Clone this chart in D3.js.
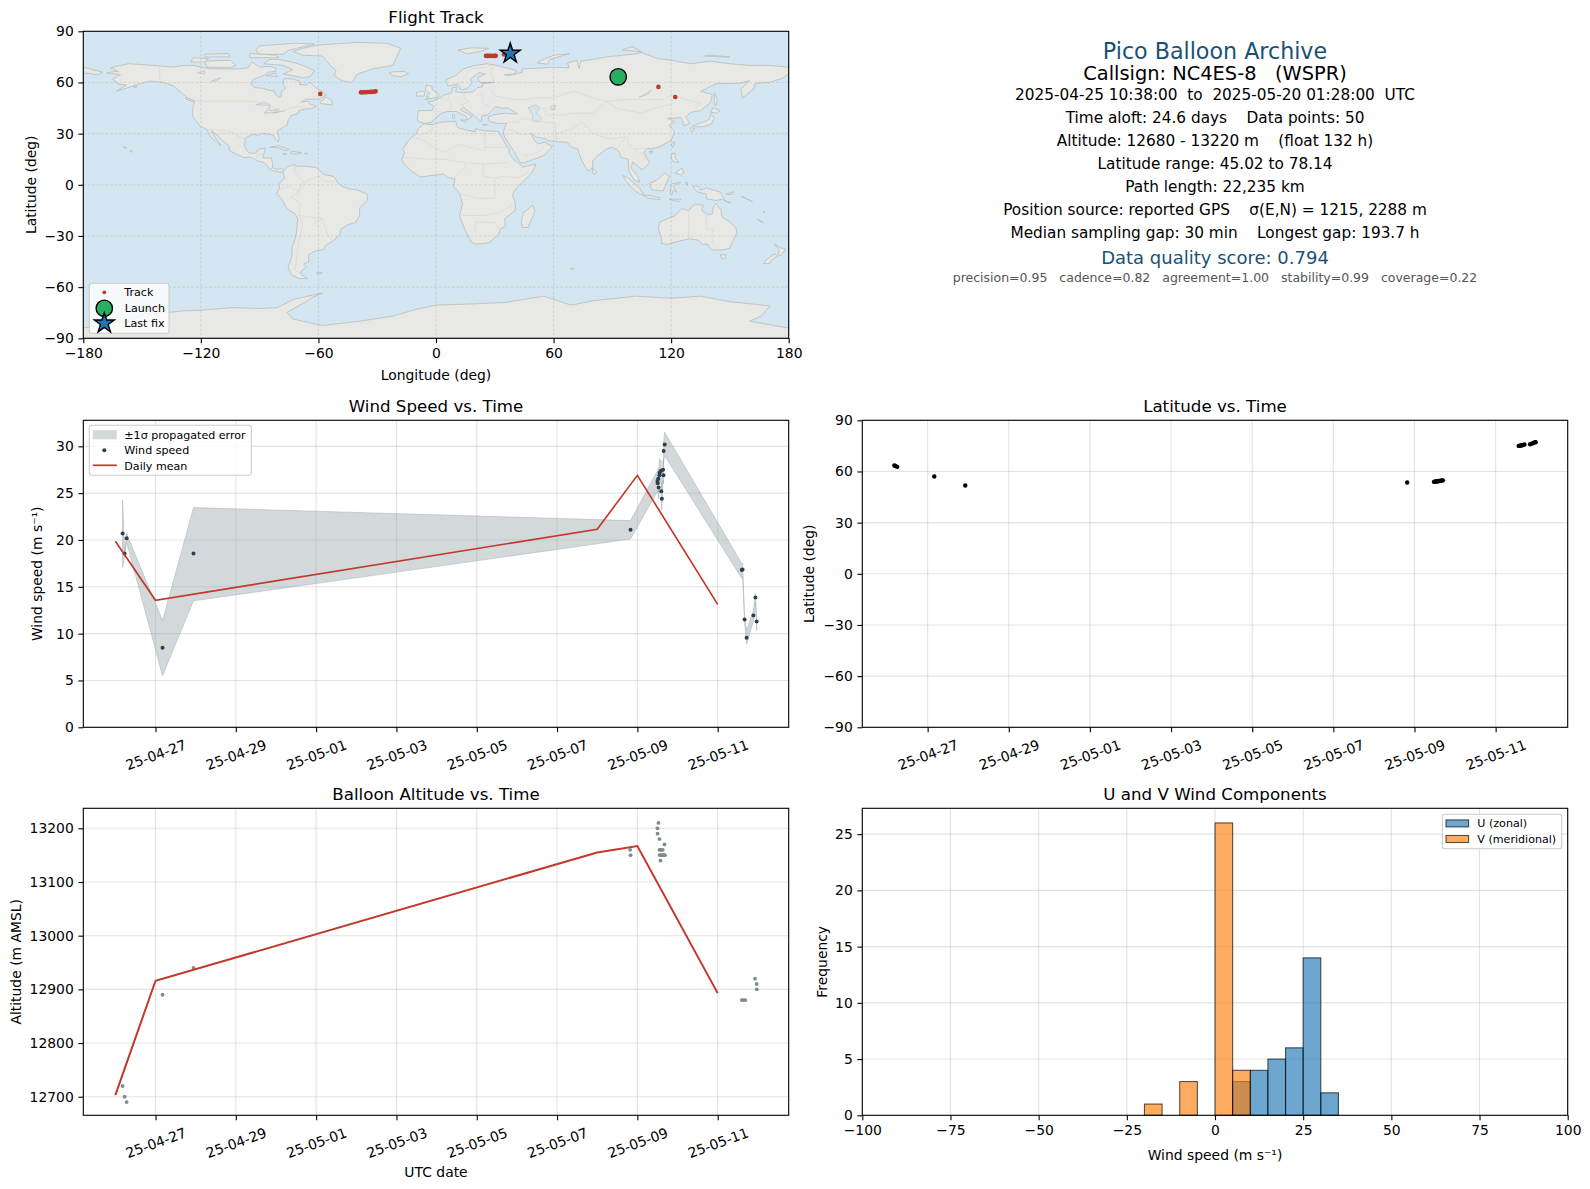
<!DOCTYPE html>
<html>
<head>
<meta charset="utf-8">
<script src="https://cdn.jsdelivr.net/npm/d3@7"></script>
<style>
  html, body { margin: 0; background: #fff; }
  text { font-family: "DejaVu Sans", sans-serif; fill: #000; white-space: pre; }
</style>
</head>
<body>
<svg id="fig" width="1590" height="1189"></svg>
<script>
// ---- track / map
const trackLon = [-59.05, -38.3, -37.5, -36.6, -35.8, -35, -34.2, -33.4, -32.6, -31.7, -30.8, 25.5, 26.3, 27.2, 28, 29, 30, 30.5, 34.7, 113.5, 122.1];
const trackLat = [53.3, 54.2, 54.2, 54.3, 54.3, 54.4, 54.4, 54.5, 54.5, 54.6, 54.8, 75.6, 75.6, 75.6, 75.6, 75.6, 75.6, 75.6, 76.4, 57.4, 51.5];
const launchPos = [93, 63.3];
const lastFixPos = [37.9, 77];

// ---- wind speed panel
const windTimes = ["2025-04-26 04:19", "2025-04-26 05:31", "2025-04-26 06:43", "2025-04-27 04:12", "2025-04-27 22:42", "2025-05-08 19:55",
  "2025-05-09 12:00", "2025-05-09 12:07", "2025-05-09 12:29", "2025-05-09 12:43", "2025-05-09 13:12", "2025-05-09 13:26", "2025-05-09 14:10",
  "2025-05-09 14:17", "2025-05-09 14:38", "2025-05-09 15:22", "2025-05-09 15:36", "2025-05-09 15:43", "2025-05-09 16:19",
  "2025-05-11 14:24", "2025-05-11 14:53", "2025-05-11 16:05", "2025-05-11 17:17", "2025-05-11 21:22", "2025-05-11 22:34", "2025-05-11 23:17"];
const windSpeed = [20.68, 18.55, 20.18, 8.5, 18.55, 21.1, 26.3, 26.05, 26.55, 25.6, 26.9, 27.2, 27.4, 25.2, 24.4, 27.5, 26.9, 29.5, 30.2, 16.8, 16.85, 11.5, 9.57, 11.93, 13.85, 11.29];
const windLow = [17.1, 18.3, 19.75, 5.5, 13.5, 20.1, 25.2, 25, 25.4, 24.4, 25.8, 26, 26.2, 24.2, 23.2, 26.4, 26, 28.4, 29, 15.9, 16.1, 11.2, 8.86, 11.4, 13.3, 10.35];
const windHigh = [24.3, 18.8, 20.68, 11.4, 23.46, 22.07, 27.4, 27.1, 27.7, 26.8, 28.7, 28.4, 28.5, 26.2, 25.6, 28.6, 27.8, 30.6, 31.5, 17.5, 17.5, 11.8, 10.35, 12.5, 14.3, 11.7];
const dailyDates = ["2025-04-26 00:00", "2025-04-27 00:00", "2025-05-08 00:00", "2025-05-09 00:00", "2025-05-11 00:00"];
const dailyWind = [19.86, 13.56, 21.15, 26.9, 13.13];

// ---- latitude panel
const latTimes = ["2025-04-26 04:19", "2025-04-26 05:00", "2025-04-26 06:00", "2025-04-27 03:55", "2025-04-27 22:15", "2025-05-08 19:41",
  "2025-05-09 11:31", "2025-05-09 12:00", "2025-05-09 12:30", "2025-05-09 13:00", "2025-05-09 13:30", "2025-05-09 14:00", "2025-05-09 14:30", "2025-05-09 15:00", "2025-05-09 15:30", "2025-05-09 16:10", "2025-05-09 16:48",
  "2025-05-11 13:40", "2025-05-11 14:20", "2025-05-11 15:00", "2025-05-11 15:40", "2025-05-11 16:20", "2025-05-11 17:02", "2025-05-11 20:24", "2025-05-11 21:22", "2025-05-11 22:19", "2025-05-11 23:17", "2025-05-11 23:40"];
const latValues = [63.5, 63.2, 62.7, 57.07, 51.8, 53.55, 53.9, 54, 54.1, 54.2, 54.2, 54.3, 54.4, 54.5, 54.6, 54.7, 54.8, 75, 75.1, 75.2, 75.4, 75.6, 75.8, 76, 76.3, 76.7, 77.1, 77.2];

// ---- altitude panel
const altTimes = ["2025-04-26 04:19", "2025-04-26 05:31", "2025-04-26 06:43", "2025-04-27 04:12", "2025-04-27 22:42", "2025-05-08 19:40", "2025-05-08 19:55",
  "2025-05-09 12:37", "2025-05-09 12:00", "2025-05-09 12:05", "2025-05-09 13:12", "2025-05-09 16:13",
  "2025-05-09 13:12", "2025-05-09 13:50", "2025-05-09 14:30", "2025-05-09 15:10",
  "2025-05-09 13:20", "2025-05-09 14:00", "2025-05-09 14:40", "2025-05-09 15:20", "2025-05-09 16:00", "2025-05-09 16:30", "2025-05-09 13:50",
  "2025-05-11 14:24", "2025-05-11 15:20", "2025-05-11 16:30", "2025-05-11 22:19", "2025-05-11 23:17", "2025-05-11 23:20"];
const altValues = [12720, 12700, 12690, 12890, 12940, 13160, 13150, 13210, 13200, 13190, 13180, 13170, 13160, 13160, 13160, 13160, 13150, 13150, 13150, 13150, 13150, 13150, 13140, 12880, 12880, 12880, 12920, 12910, 12900];
const dailyAlt = [12703, 12916, 13155, 13167, 12893];

// ---- histogram (5 m/s bins)
const binStarts = [-20, -15, -10, -5, 0, 5, 10, 15, 20, 25, 30];
const uCounts = [0, 0, 0, 0, 0, 3, 4, 5, 6, 14, 2];
const vCounts = [1, 0, 3, 0, 26, 4, 0, 0, 0, 0, 0];

// ---- tick labels
const lonTicks = [-180, -120, -60, 0, 60, 120, 180];
const latTicks = [-90, -60, -30, 0, 30, 60, 90];
const dateTicks = ["2025-04-27", "2025-04-29", "2025-05-01", "2025-05-03", "2025-05-05", "2025-05-07", "2025-05-09", "2025-05-11"];
const windTicks = [0, 5, 10, 15, 20, 25, 30];
const altTicks = [12700, 12800, 12900, 13000, 13100, 13200];
const histXTicks = [-100, -75, -50, -25, 0, 25, 50, 75, 100];
const histYTicks = [0, 5, 10, 15, 20, 25];

// ---- summary text
const infoLines = [
  ["Pico Balloon Archive", 22.2, "#1a5276", 51],
  ["Callsign: NC4ES-8   (WSPR)", 19.4, "#000", 73],
  ["2025-04-25 10:38:00  to  2025-05-20 01:28:00  UTC", 15.3, "#000", 94.5],
  ["Time aloft: 24.6 days    Data points: 50", 15.3, "#000", 117.5],
  ["Altitude: 12680 - 13220 m    (float 132 h)", 15.3, "#000", 140.5],
  ["Latitude range: 45.02 to 78.14", 15.3, "#000", 163.5],
  ["Path length: 22,235 km", 15.3, "#000", 186.5],
  ["Position source: reported GPS    σ(E,N) = 1215, 2288 m", 15.3, "#000", 209.5],
  ["Median sampling gap: 30 min    Longest gap: 193.7 h", 15.3, "#000", 232.5],
  ["Data quality score: 0.794", 18, "#1a5276", 257.5],
  ["precision=0.95   cadence=0.82   agreement=1.00   stability=0.99   coverage=0.22", 12.5, "#555", 277.5]
];

// ---- land outlines, lon/lat
const land = [
  // North America
  [[-168,65.5],[-164,66.5],[-162,66.3],[-166,68.5],[-163,69.5],[-157,71],[-150,70.5],[-141,69.7],[-135,69],[-128,70],[-124,70],[-115,68],[-108,68],[-100,68],[-96,68.5],[-94,72],[-90,69],[-85,69.5],[-81.5,68.5],[-82,66.5],[-86,66],[-88,64],[-93,62],[-94.5,59],[-92.5,57],[-88,56.5],[-85,55.3],[-82.5,55],[-82,53],[-80,51.3],[-79,52],[-79,54.5],[-76.8,56.5],[-78,59],[-77.5,62.3],[-73,62],[-70,61],[-69.5,58.8],[-66,58.5],[-64.5,60.3],[-61.5,57],[-58,54.8],[-56,52.5],[-60,50.2],[-66,50.2],[-69,48.5],[-65,49],[-64.5,47.5],[-61,46],[-64,44.5],[-66.5,44.5],[-70,43.5],[-70.5,41.7],[-74,40.5],[-75.5,37.5],[-76,35],[-78,33.8],[-81,31.5],[-80,27],[-80.5,25.2],[-82,27],[-83,29],[-85,29.7],[-89,30.2],[-90,29.1],[-94,29.5],[-97.2,27.5],[-97.8,22.5],[-95.5,18.7],[-92,18.5],[-90.5,21],[-87,21.5],[-88,17.5],[-88.5,15.8],[-84,15.8],[-83.3,12],[-83.5,10],[-81,9],[-79.5,9.5],[-77.5,8.6],[-78.2,7.5],[-80.3,7.5],[-83,8.3],[-85.5,10],[-87.5,13],[-91,14],[-94.5,16.2],[-98,16],[-102,18],[-105.5,20.3],[-105.5,22.5],[-109,26],[-112.5,30],[-114.7,31.7],[-113,28],[-109.7,23],[-112,25],[-115,28],[-117,32.5],[-120.5,34.5],[-122.5,37.5],[-124.3,40.5],[-124,46],[-123,49],[-127,51],[-130.5,54.5],[-134,58],[-139,60],[-146,60.8],[-152,59],[-157,57],[-163,55],[-158,58.5],[-162,59],[-165,62],[-161,64.5]],
  // Chukotka across the date line
  [[-180,69],[-175,67.5],[-170,66],[-173,64.5],[-178,65.5],[-180,65]],
  // Canadian Arctic, Newfoundland
  [[-80,73.5],[-72,71.5],[-68,70],[-62,67],[-64,63.5],[-68,62.7],[-73,64],[-78,65],[-73,67.5],[-78,70],[-88,71],[-85,73.5]],
  [[-90,76.5],[-78,76.5],[-75,79],[-62,82.5],[-72,83],[-90,81.5],[-92,79]],
  [[-117,69],[-105,68.7],[-102,70],[-105,73],[-118,72.5]],
  [[-125,72],[-118,72],[-116,74],[-124,74.5]],
  [[-95,74.5],[-80,74.5],[-82,76],[-95,77]],
  [[-118,75],[-105,75],[-106,77],[-118,76.5]],
  [[-87,64],[-81,63.5],[-82,65.5]],
  [[-59,47.7],[-53,46.8],[-53,49],[-56,51.5],[-59,48.8]],
  [[-128,50.5],[-124,48.5],[-123.5,49.2],[-127,51]],
  [[-154.5,57.5],[-152.5,58],[-153,57]],
  // Greenland
  [[-73,78.2],[-68,76],[-58,75.5],[-54,70],[-51,67],[-52,64],[-48,61],[-43,60],[-40,65],[-32,68],[-22,70],[-20,75],[-18,80],[-25,83],[-40,83.5],[-60,82],[-68,80]],
  // Caribbean, Hawaii
  [[-85,22],[-80,23],[-75,20.5],[-77.5,20],[-80,21.7]],
  [[-74,19.8],[-68.5,18.7],[-71,18],[-74,18.3]],
  [[-78.3,18.4],[-76.3,18.1],[-77.5,17.8]],
  [[-67.2,18.5],[-65.6,18.4],[-66.5,18]],
  [[-156,20.2],[-155,19.7],[-155.7,19]],
  [[-159.8,22.2],[-157.8,21.5],[-158.2,21.3]],
  // South America
  [[-77.5,8.6],[-75.5,10.8],[-72,12],[-71.5,10.8],[-68,11],[-64,10.5],[-61,10],[-57,6],[-52,4.8],[-50,1],[-48,-1],[-44,-2.5],[-40,-3],[-35.2,-5.5],[-35,-9],[-39,-13.5],[-39,-18],[-41,-22],[-45,-23.5],[-48.5,-26],[-49,-29],[-53,-33.5],[-56,-35],[-57.5,-38],[-62,-39],[-65,-41],[-65,-45],[-67.5,-46.5],[-66,-48],[-69,-51],[-68.5,-53],[-65.5,-55],[-70,-55],[-74,-52.5],[-75.5,-48],[-73.5,-42],[-73.5,-37],[-71.5,-30],[-70.5,-20],[-72,-17],[-76,-14],[-79,-8],[-81.3,-5],[-80,-2.5],[-80,0.5],[-78.5,2.5],[-77.3,4],[-78,7.5]],
  [[-61,-51.5],[-58,-51.5],[-58.5,-52.3],[-60.8,-52.2]],
  // Africa, Madagascar
  [[-6,35.8],[-2,35.2],[3,36.8],[10,37.3],[11,33.5],[15,32.3],[20,31],[20,32.8],[25,31.7],[32,31.2],[32.5,30],[34,27],[35.5,24],[37.3,21],[37.3,18.5],[39.5,15],[43,12],[44,10.5],[51,12],[49,7],[44,1.5],[41,-2],[39,-6],[40.5,-10.5],[40.5,-15],[35,-20],[35.5,-24],[32.8,-26],[32,-29],[27,-34],[20,-34.8],[18.3,-33.8],[15,-27],[12,-18],[13.5,-11],[12,-5],[9,-1],[9.7,3.5],[6,4.3],[4,6.3],[-4,5.2],[-8,4.5],[-13,8.5],[-16.5,12.5],[-17.5,14.7],[-16,19],[-17,21],[-13,27.5],[-10,30],[-9,33]],
  [[49.5,-12],[50.5,-15.5],[47,-25],[44,-25],[43.5,-21.5],[44.5,-16.5]],
  // Eurasia
  [[-9,37],[-9.5,39],[-9,43.5],[-2,43.5],[-1,46],[-4.5,48.5],[-1.5,49],[2,51],[4,52.5],[8,54],[8.5,57],[10.5,57.5],[10,54.5],[14,54],[19,54.5],[21,57],[24,57.5],[23.5,59.3],[30,60],[23,60],[21.5,61],[21.5,63],[25,65],[22,65.8],[17.5,62],[18.5,60],[16,56.5],[13,55.5],[11,59],[6,58],[5,61.5],[10,64],[14,68],[20,70],[26,71],[31,70],[41,67],[40,65],[35,64.5],[37,64],[44,66],[44,68],[54,68.5],[60,69],[68,68.5],[67,71.5],[72,73],[73,68],[74,72.5],[80,73.5],[87,75],[100,76.5],[105,77.5],[113,74],[120,73],[130,71],[140,72.5],[150,71],[160,70],[170,70],[180,69],[180,65],[177,62.5],[170,60],[163,59.5],[162,56],[156.5,51],[155.5,56],[160,61],[155,59.5],[143,59.3],[135,54.7],[141,53],[140,48],[135,43.5],[130,42.5],[127.5,39.8],[129.5,36],[126.5,34.5],[126,37],[125,39.5],[121.5,39],[118,39],[122,37],[119,35],[121.8,31],[120,26],[114,22.3],[110,21],[108,21.5],[106,19],[109,13],[107,10.5],[105,8.8],[103,11],[100.5,13.5],[99.5,10],[103,5],[104,1.5],[101,3],[98.5,8],[98,15],[94.5,16],[93,20],[90,22],[87,21],[82,16.5],[80,14],[80,10],[77.5,8],[74.5,14],[72.8,19],[72.5,21],[69,22],[67,25],[61.5,25.2],[57,26],[56,27],[51,28],[48.5,30],[50,26.5],[52,24],[56,25],[56.5,24],[59.5,22.5],[55,17],[45,13],[43,13],[39,21],[35,28],[34.3,31],[36,36],[32,36],[27.5,37],[26.5,39.5],[29,41],[35,42],[41.5,41.5],[37,45],[33,45],[30.5,46],[28,43],[26,40.7],[23.5,40.5],[23,37],[20,40],[14,45.5],[12.5,44],[18.5,40],[16,38],[15.5,40],[10.5,43],[6,43],[3,42],[0,39.5],[-2,36.8],[-5.5,36]],
  // European and Arctic islands
  [[-5.5,50],[1,51.2],[1.5,52.8],[-2,56],[-2,57.7],[-5,58.5],[-5.5,55.5],[-3,53.5],[-5,52],[-3.5,51.3]],
  [[-10,52],[-6,52],[-5.7,54.5],[-8,55],[-10,54]],
  [[-24,65.5],[-22,64],[-18,63.4],[-14,65],[-16,66.5],[-22,66.3]],
  [[11,79],[16,76.8],[22,78],[27,80],[18,80.3]],
  [[51.5,71.5],[57,70.7],[58,73.5],[68,76.8],[60,76],[54,73]],
  [[95,79],[105,78],[100,81]],
  [[137,75.5],[145,75],[150,75],[140,76]],
  [[12.5,38],[15.5,38],[15,36.7]],
  [[8.3,41],[9.7,41],[9.5,39],[8.5,39]],
  [[23.5,35.5],[26.3,35.2],[24.5,35]],
  // East Asia
  [[142,54],[143.5,50],[143,46.5],[142,47],[142,51]],
  [[141,41],[142,39],[140.5,35.5],[136,34],[132,34],[131,34.3],[133,35.6],[137,37],[139.5,38.5],[140,41]],
  [[140,42],[141.5,45.3],[145,43.5],[143,42],[141,42.5]],
  [[130,33.5],[132,33],[131,31],[130,31.5]],
  [[121,25.2],[122,25],[120.8,22],[120,23.5]],
  [[108.7,19.3],[110.5,20],[110,18.3]],
  [[80,9.7],[82,7.5],[80.5,6],[79.8,8]],
  // Indonesia, Philippines, New Guinea
  [[95.5,5.5],[98,4],[104,-2],[106,-5.8],[104,-5.5],[100,-2],[97,2]],
  [[105.5,-6],[110,-6.5],[114.5,-7.7],[114,-8.7],[108,-7.8]],
  [[109,1],[111,1.8],[113.5,3.5],[116.7,7],[119,5],[117.7,1],[116,-3.5],[114,-3.5],[110,-2.8]],
  [[119.5,-5.5],[120,0.5],[125,1.5],[121,-0.8],[123,-4.5],[121,-3],[120.5,-5.5]],
  [[120.5,18.5],[122,18.4],[122,16],[124,13],[120.8,13.8],[120,16]],
  [[122,7],[125.5,9.8],[126.5,7],[125,5.7]],
  [[119,-8.5],[125,-8.4],[124,-10]],
  [[127.5,1.5],[128.5,1],[128,-0.5]],
  [[131,-0.8],[134,-0.8],[135,-3.3],[138,-1.7],[145,-4.3],[148,-10],[150.5,-10.6],[146,-8.5],[143,-9.2],[138,-8.2],[138,-5.5],[133,-4]],
  [[148,-5.5],[152,-4],[151,-5.8]],
  [[156,-6.8],[160,-9],[161.5,-10],[158,-8]],
  // Australia, New Zealand, small southern islands
  [[114,-22],[113.5,-26],[115,-31],[115,-34.3],[118,-35],[124,-33],[129,-31.7],[134,-32.5],[136,-35],[138.5,-34.7],[140.5,-38],[144,-38.3],[147,-38],[150,-37.2],[151.5,-33],[153.5,-28],[153,-25],[149,-21],[146,-19],[145.5,-15],[143,-11],[141.5,-13],[141,-17],[139,-17.5],[135.5,-15],[136.5,-12],[132,-11.3],[129,-15],[125.5,-14],[122,-18],[117,-20.5]],
  [[145,-41],[148,-41],[147.8,-43],[146,-43.5]],
  [[172.8,-34.5],[175.5,-37],[178.5,-37.7],[176,-41.5],[174.8,-41.2],[175,-38.5]],
  [[172.7,-40.5],[174.2,-41.7],[171,-44.5],[170.5,-46],[167,-46.3],[168.5,-44]],
  [[164,-20.2],[167,-22],[166,-22]],
  [[167,-15.5],[167.8,-16],[167.3,-16.5]],
  [[68.7,-49],[70.5,-49],[69.5,-49.7]],
  // Antarctica
  [[-180,-84],[-155,-79],[-150,-76.5],[-130,-74],[-120,-73.5],[-104,-72],[-90,-72.5],[-81,-72],[-72.8,-67.2],[-58,-63.5],[-63,-66],[-67,-69],[-76,-74.8],[-73,-78.7],[-58,-82.5],[-39,-80],[-22,-77],[-10,-73],[0,-70.5],[15,-70],[35,-69],[55,-65.3],[69,-70.6],[80,-68],[102,-65.3],[120,-66.5],[135,-65.3],[150,-68.5],[170.5,-71],[166,-77],[160,-80],[180,-84],[180,-90],[-180,-90]]
];
const lakes = [
  [[47,45],[51,47],[53,45],[51,42],[54,39],[52.5,37],[49,37.5],[49.5,41]],
  [[58.5,46],[61,46.5],[60.5,44],[58.5,44]],
  [[103.7,51.5],[105.5,52],[109.8,55.5],[108.5,53.5]],
  [[-92,47],[-84.5,46.5],[-87,48.5]],
  [[-87.8,42],[-85,46],[-84.5,43.5],[-80,44.5],[-83,42],[-79,43],[-77,43.6],[-82,42.3]],
  [[-122,65.5],[-118,67],[-118,65]],
  [[-115,60.5],[-110,62.8],[-112,61]]
];
const borders = [
  [[-123,49],[-95,49],[-89,48],[-82,45],[-79,43],[-75,45],[-70,46],[-67,45]], [[-141,69.7],[-141,60]], [[-117,32.5],[-106,31.7],[-97,26]], [[-92,14.5],[-91,18],[-88,18]],
  [[-70,-18],[-69,-11],[-74,-7],[-70,-4],[-69,1],[-60,5],[-57,2],[-52,2]], [[-70,-18],[-58,-20],[-55,-30],[-53,-33]], [[-70,-18],[-68,-23],[-70,-33],[-72,-50],[-69,-52]], [[-72,12],[-72,7],[-67,1],[-70,-4]], [[-80,-3],[-75,-1],[-70,-4]], [[-58,-20],[-62,-22],[-58,-27]],
  [[-2,43.5],[3,42.5]], [[2,51],[6,49.5],[8,47.5],[7,44]], [[7,54],[6,50]], [[14,54],[15,50],[17,48.5],[13,47],[13.5,45.7]], [[23.5,54],[24,48],[28,45.5]], [[20,40],[22,41.5],[26,41.7]], [[12,59],[18,68],[26,69],[28,70]], [[30,60],[28,65],[29,69.5]],
  [[-9,29],[-2,32],[-2,35]], [[-13,27.5],[-8,27],[4,19],[12,23.5],[25,20],[25,31]], [[25,22],[37,22]], [[-16,16],[-5,15],[4,15],[15,13],[24,12],[36,13]], [[9,4],[15,10],[15,13]], [[24,12],[24,5],[30,4],[35,5],[42,4],[48,8]], [[12,-5],[22,-8],[30,-8],[30,-1],[30,4]], [[12,-18],[25,-18],[33,-16],[40,-11]], [[20,-28],[20,-22],[30,-22],[32,-26]],
  [[28,56],[30,52],[40,50],[47,50],[50,51],[60,51],[70,55],[80,51],[87,49],[98,50],[107,50],[117,50],[120,53],[127,50],[135,48],[131,43]], [[87,49],[92,45],[105,42],[112,45],[120,47]], [[62,25],[61,30],[70,33],[74,37],[78,33],[80,30],[88,27],[97,28],[93,22],[92,21]], [[50,45],[56,45],[56,41],[66,41],[70,42],[80,42],[87,49]], [[44,39],[48,38],[54,37],[61,36],[61,30],[62,25]], [[48,30],[44,29],[39,32],[36,32.5]], [[36,36.5],[42,37],[44,39]], [[98,28],[98,24],[101,21],[107,21.5]], [[101,21],[105,18],[107,14]], [[45,17],[52,19],[55,22]],
  [[129,-15],[129,-31.5]], [[138,-16.5],[138,-26],[141,-26],[141,-34]]
];

const parseTime = d3.utcParse("%Y-%m-%d %H:%M");
const parseDay = d3.utcParse("%Y-%m-%d");
const windDates = windTimes.map(parseTime);
const latDates = latTimes.map(parseTime);
const altDates = altTimes.map(parseTime);
const dailyX = dailyDates.map(parseTime);
const tickDates = dateTicks.map(parseDay);

const fontTick = 13.9, fontTitle = 16.67, fontLegend = 11.1;
const axW = 705.4, axH = 307;
const colLeft = 83.3, colRight = 862.3;
const rows = [31.3, 420.3, 808.3];
const gridColor = "#b0b0b0", lineRed = "#c0392b", navy = "#2c3e50";

const svg = d3.select("#fig");

// margins like matplotlib: 5% of the data range on both sides
function padExtent(values) {
  const [a, b] = d3.extent(values);
  const m = (b - a) * 0.05;
  return [new Date(+a - m), new Date(+b + m)];
}

function panel(left, top, title, xLabel, yLabel, yLabelX, xLabelY) {
  const g = svg.append("g").attr("transform", `translate(${left},${top})`);
  svg.append("text").attr("x", left + axW / 2).attr("y", top - 8).attr("text-anchor", "middle")
    .attr("font-size", fontTitle).text(title);
  if (xLabel) svg.append("text").attr("x", left + axW / 2).attr("y", xLabelY).attr("text-anchor", "middle")
    .attr("font-size", fontTick).text(xLabel);
  if (yLabel) svg.append("text").attr("text-anchor", "middle").attr("font-size", fontTick)
    .attr("transform", `translate(${yLabelX},${top + axH / 2}) rotate(-90)`).text(yLabel);
  return g;
}

function drawGrid(g, x, y, xTicks, yTicks, dash, color, opacity) {
  const grid = g.append("g").attr("stroke", color).attr("stroke-opacity", opacity).attr("stroke-width", 1.1)
    .attr("stroke-dasharray", dash);
  grid.selectAll(".gx").data(xTicks).join("line").attr("x1", d => x(d)).attr("x2", d => x(d)).attr("y1", 0).attr("y2", axH);
  grid.selectAll(".gy").data(yTicks).join("line").attr("y1", d => y(d)).attr("y2", d => y(d)).attr("x1", 0).attr("x2", axW);
}

function styleAxis(sel) {
  sel.selectAll("text").attr("font-size", fontTick).attr("fill", "#000");
  sel.selectAll("line").attr("stroke", "#000").attr("stroke-width", 1.1);
  sel.select(".domain").remove();
}

function drawAxes(g, x, y, xTicks, yTicks, dateAxis, yFormat) {
  const bottom = d3.axisBottom(x).tickValues(xTicks).tickSize(4.9).tickPadding(4.6);
  if (dateAxis) bottom.tickFormat(d3.utcFormat("%y-%m-%d"));
  const gx = g.append("g").attr("transform", `translate(0,${axH})`).call(bottom).call(styleAxis);
  if (dateAxis) {
    gx.selectAll("text").attr("y", 0).attr("dy", "0.35em").attr("text-anchor", "middle")
      .attr("transform", "translate(0,27.7) rotate(-20)");
  }
  const left = d3.axisLeft(y).tickValues(yTicks).tickSize(4.9).tickPadding(4.6);
  if (yFormat) left.tickFormat(yFormat);
  g.append("g").call(left).call(styleAxis);
  g.append("rect").attr("width", axW).attr("height", axH).attr("fill", "none").attr("stroke", "#000").attr("stroke-width", 1.1);
}

function legendBox(g, x, y, w, h) {
  g.append("rect").attr("x", x).attr("y", y).attr("width", w).attr("height", h).attr("rx", 2.5)
    .attr("fill", "#fff").attr("fill-opacity", 0.8).attr("stroke", "#ccc").attr("stroke-width", 1.1);
}
function legendText(g, x, y, label) {
  g.append("text").attr("x", x).attr("y", y).attr("dy", "0.35em").attr("font-size", fontLegend).attr("fill", "#000").text(label);
}

// ---------- Flight Track
{
  const g = panel(colLeft, rows[0], "Flight Track", "Longitude (deg)", "Latitude (deg)", 36, 380);
  const x = d3.scaleLinear().domain([-180, 180]).range([0, axW]);
  const y = d3.scaleLinear().domain([-90, 90]).range([axH, 0]);
  const path = d3.line().x(d => x(d[0])).y(d => y(d[1]));
  svg.append("clipPath").attr("id", "mapclip").append("rect").attr("width", axW).attr("height", axH);
  g.append("rect").attr("width", axW).attr("height", axH).attr("fill", "#d4e6f1");
  const map = g.append("g").attr("clip-path", "url(#mapclip)");
  map.selectAll(".land").data(land).join("path").attr("d", d => path(d) + "Z")
    .attr("fill", "#e8e8e4").attr("stroke", "#b8bcbc").attr("stroke-width", 0.8).attr("stroke-linejoin", "round");
  map.selectAll(".lake").data(lakes).join("path").attr("d", d => path(d) + "Z")
    .attr("fill", "#d4e6f1").attr("stroke", "#b8bcbc").attr("stroke-width", 0.6);
  map.selectAll(".border").data(borders).join("path").attr("d", path)
    .attr("fill", "none").attr("stroke", "#d9d9d5").attr("stroke-width", 0.8);
  drawGrid(g, x, y, lonTicks, latTicks, "2.5,2", "#888", 0.2);
  g.selectAll(".track").data(trackLon).join("circle").attr("cx", d => x(d)).attr("cy", (d, i) => y(trackLat[i]))
    .attr("r", 2.3).attr("fill", lineRed);
  g.append("circle").attr("cx", x(launchPos[0])).attr("cy", y(launchPos[1])).attr("r", 8.2)
    .attr("fill", "#27ae60").attr("stroke", "#000").attr("stroke-width", 1.4);
  const star = d3.symbol().type(d3.symbolStar).size(124);
  g.append("path").attr("d", star).attr("transform", `translate(${x(lastFixPos[0])},${y(lastFixPos[1])})`)
    .attr("fill", "#1f77b4").attr("stroke", "#000").attr("stroke-width", 1.4).attr("stroke-linejoin", "miter");
  drawAxes(g, x, y, lonTicks, latTicks, false);
  const lg = g.append("g").attr("transform", "translate(6,252)");
  legendBox(lg, 0, 0, 79.7, 50);
  lg.append("circle").attr("cx", 15).attr("cy", 9).attr("r", 1.9).attr("fill", lineRed);
  legendText(lg, 35, 9, "Track");
  lg.append("circle").attr("cx", 15).attr("cy", 25).attr("r", 8.2).attr("fill", "#27ae60").attr("stroke", "#000").attr("stroke-width", 1.4);
  legendText(lg, 35.5, 25, "Launch");
  lg.append("path").attr("d", star).attr("transform", "translate(15,40)").attr("fill", "#1f77b4").attr("stroke", "#000").attr("stroke-width", 1.4);
  legendText(lg, 35, 40, "Last fix");
}

// ---------- summary block
svg.append("g").selectAll("text").data(infoLines).join("text")
  .attr("x", 1215).attr("y", d => d[3]).attr("dy", "0.35em").attr("text-anchor", "middle")
  .attr("font-size", d => d[1]).style("fill", d => d[2]).text(d => d[0]);

// ---------- Wind Speed vs. Time
{
  const g = panel(colLeft, rows[1], "Wind Speed vs. Time", null, "Wind speed (m s⁻¹)", 42, 0);
  const x = d3.scaleUtc().domain(padExtent(windDates.concat(dailyX))).range([0, axW]);
  const y = d3.scaleLinear().domain([0, 32.78]).range([axH, 0]);
  drawGrid(g, x, y, tickDates, windTicks, null, gridColor, 0.35);
  const band = d3.area().x((d, i) => x(d)).y0((d, i) => y(windLow[i])).y1((d, i) => y(windHigh[i]));
  g.append("path").attr("d", band(windDates)).attr("fill", "#95a5a6").attr("fill-opacity", 0.42).attr("stroke", "#95a5a6").attr("stroke-opacity", 0.42);
  g.selectAll(".pt").data(windDates).join("circle").attr("cx", d => x(d)).attr("cy", (d, i) => y(windSpeed[i]))
    .attr("r", 2).attr("fill", navy);
  const line = d3.line().x(d => x(d)).y((d, i) => y(dailyWind[i]));
  g.append("path").attr("d", line(dailyX)).attr("fill", "none").attr("stroke", lineRed).attr("stroke-width", 1.67);
  drawAxes(g, x, y, tickDates, windTicks, true);
  const lg = g.append("g").attr("transform", "translate(6,5)");
  legendBox(lg, 0, 0, 162, 50);
  lg.append("rect").attr("x", 3.5).attr("y", 5).attr("width", 24).attr("height", 9).attr("fill", "#95a5a6").attr("fill-opacity", 0.42);
  legendText(lg, 35, 10, "±1σ propagated error");
  lg.append("circle").attr("cx", 15).attr("cy", 25).attr("r", 2).attr("fill", navy);
  legendText(lg, 35, 25, "Wind speed");
  lg.append("line").attr("x1", 3.5).attr("x2", 27.5).attr("y1", 40).attr("y2", 40).attr("stroke", lineRed).attr("stroke-width", 1.67);
  legendText(lg, 35, 41, "Daily mean");
}

// ---------- Latitude vs. Time
{
  const g = panel(colRight, rows[1], "Latitude vs. Time", null, "Latitude (deg)", 814, 0);
  const x = d3.scaleUtc().domain(padExtent(latDates)).range([0, axW]);
  const y = d3.scaleLinear().domain([-90, 90]).range([axH, 0]);
  drawGrid(g, x, y, tickDates, latTicks, null, gridColor, 0.35);
  g.selectAll(".pt").data(latDates).join("circle").attr("cx", d => x(d)).attr("cy", (d, i) => y(latValues[i]))
    .attr("r", 2.2).attr("fill", "#000");
  drawAxes(g, x, y, tickDates, latTicks, true);
}

// ---------- Balloon Altitude vs. Time
{
  const g = panel(colLeft, rows[2], "Balloon Altitude vs. Time", "UTC date", "Altitude (m AMSL)", 21, 1177);
  const x = d3.scaleUtc().domain(padExtent(windDates.concat(dailyX))).range([0, axW]);
  const y = d3.scaleLinear().domain([12665.4, 13237.3]).range([axH, 0]);
  drawGrid(g, x, y, tickDates, altTicks, null, gridColor, 0.35);
  g.selectAll(".pt").data(altDates).join("circle").attr("cx", d => x(d)).attr("cy", (d, i) => y(altValues[i]))
    .attr("r", 1.9).attr("fill", "#7f8c8d");
  const line = d3.line().x(d => x(d)).y((d, i) => y(dailyAlt[i]));
  g.append("path").attr("d", line(dailyX)).attr("fill", "none").attr("stroke", lineRed).attr("stroke-width", 2);
  drawAxes(g, x, y, tickDates, altTicks, true, d3.format("d"));
}

// ---------- U and V Wind Components
{
  const g = panel(colRight, rows[2], "U and V Wind Components", "Wind speed (m s⁻¹)", "Frequency", 827, 1160);
  const x = d3.scaleLinear().domain([-100, 100]).range([0, axW]);
  const y = d3.scaleLinear().domain([0, 27.3]).range([axH, 0]);
  const binW = 5;
  drawGrid(g, x, y, histXTicks, histYTicks.filter(d => d > 0), null, gridColor, 0.35);
  const bars = (counts, color) => g.append("g").selectAll("rect").data(binStarts.filter((d, i) => counts[i] > 0)).join("rect")
    .attr("x", d => x(d)).attr("width", x(binW) - x(0))
    .attr("y", d => y(counts[binStarts.indexOf(d)])).attr("height", d => axH - y(counts[binStarts.indexOf(d)]))
    .attr("fill", color).attr("fill-opacity", 0.65).attr("stroke", "#000").attr("stroke-opacity", 0.65).attr("stroke-width", 1.1);
  bars(uCounts, "#1f77b4");
  bars(vCounts, "#ff7f0e");
  drawAxes(g, x, y, histXTicks, histYTicks, false);
  const lg = g.append("g").attr("transform", "translate(580,6)");
  legendBox(lg, 0, 0, 119.4, 34.4);
  const items = [["#1f77b4", "U (zonal)", 9.2], ["#ff7f0e", "V (meridional)", 24.8]];
  items.forEach(([c, label, yy]) => {
    lg.append("rect").attr("x", 3.7).attr("y", yy - 3.6).attr("width", 22.6).attr("height", 7)
      .attr("fill", c).attr("fill-opacity", 0.65).attr("stroke", "#000").attr("stroke-opacity", 0.65).attr("stroke-width", 1.1);
    legendText(lg, 35, yy, label);
  });
}
</script>
</body>
</html>
